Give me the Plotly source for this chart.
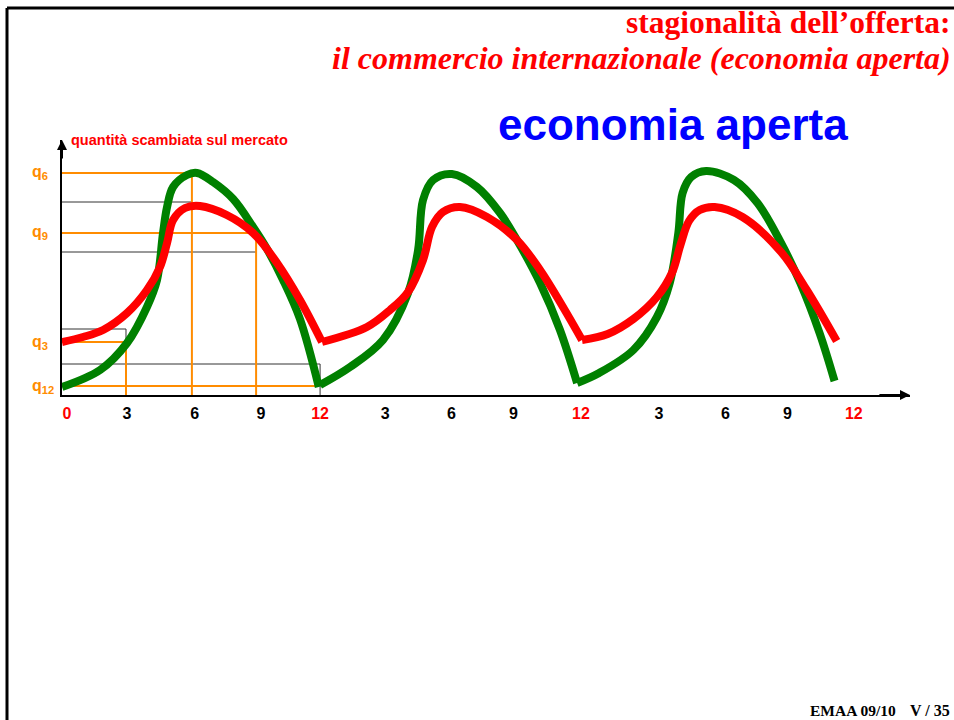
import plotly.graph_objects as go

# ---------------- data (months, quantity) ----------------
green_c1_x = [0, 1.78, 3.04, 3.97, 4.44, 4.72, 4.91, 5.19, 5.84, 6.31, 7.06, 8.0, 8.93, 9.58, 10.33, 11.12, 12.0]
green_c1_y = [8, 25, 52, 88, 115, 162, 188, 208, 220, 222, 213, 196, 168, 146, 115, 76, 8]
green_c2_x = [12.06, 13.46, 15.0, 16.17, 16.64, 16.87, 17.34, 18.22, 19.39, 20.47, 21.26, 22.34, 23.27, 24.07]
green_c2_y = [10, 28, 55, 102, 145, 195, 215, 221, 208, 182, 155, 112, 65, 12]
green_c3_x = [24.07, 25.1, 26.7, 27.8, 28.4, 28.8, 29.0, 29.4, 30.1, 31.4, 32.5, 33.6, 34.5, 35.4, 36.1]
green_c3_y = [12, 22, 45, 78, 112, 162, 202, 218, 224, 215, 192, 152, 112, 62, 14]

red_c1_x = [0, 0.98, 1.92, 3.04, 3.97, 4.58, 4.91, 5.19, 5.75, 6.45, 7.7, 8.93, 10.05, 11.12, 12.15]
red_c1_y = [53, 58, 65, 82, 105, 128, 152, 175, 187, 189, 180, 162, 132, 95, 53]
red_c2_x = [12.15, 14.25, 15.33, 16.17, 16.87, 17.29, 17.8, 18.6, 19.86, 21.26, 22.34, 23.41, 24.3]
red_c2_y = [53, 68, 85, 103, 135, 168, 183, 188, 178, 155, 125, 88, 55]
red_c3_x = [24.3, 25.5, 26.7, 27.8, 28.5, 28.9, 29.3, 29.8, 30.5, 31.8, 33.6, 34.8, 36.2]
red_c3_y = [55, 61, 76, 98, 122, 150, 174, 185, 188, 178, 143, 105, 54]

# orange guide lines: quantity levels and months
q_labels = ["q<sub>6</sub>", "q<sub>9</sub>", "q<sub>3</sub>", "q<sub>12</sub>"]
q_values = [222, 162, 53, 9]
q_months = [6.07, 9.07, 2.99, 11.96]

# thin dark guide lines
grey_values = [193, 143, 66, 31]
grey_months = [6.05, 9.07, 2.99, 12.06]

# x tick labels
tick_pos = [0.23, 3.04, 6.2, 9.3, 12.06, 15.1, 18.2, 21.1, 24.25, 27.9, 31.0, 33.9, 37.0]
tick_lab = ["0", "3", "6", "9", "12", "3", "6", "9", "12", "3", "6", "9", "12"]
tick_red = {"0", "12"}

X_MAX = 39.626
Y_MAX = 255

RED = "#FF0000"
GREEN = "#008000"
ORANGE = "#FF8C00"
W, H = 954, 720

fig = go.Figure()
for xs, ys in [(green_c1_x, green_c1_y), (green_c2_x, green_c2_y), (green_c3_x, green_c3_y)]:
    fig.add_trace(go.Scatter(x=xs, y=ys, mode="lines",
                             line=dict(color=GREEN, width=8, shape="spline", smoothing=1.0),
                             showlegend=False, hoverinfo="skip"))
for xs, ys in [(red_c1_x, red_c1_y), (red_c2_x, red_c2_y), (red_c3_x, red_c3_y)]:
    fig.add_trace(go.Scatter(x=xs, y=ys, mode="lines",
                             line=dict(color=RED, width=8, shape="spline", smoothing=1.0),
                             showlegend=False, hoverinfo="skip"))

shapes = []
for v, m in zip(grey_values, grey_months):
    shapes.append(dict(type="line", xref="x", yref="y", x0=0, x1=m, y0=v, y1=v,
                       line=dict(color="#333333", width=1), layer="below"))
shapes.append(dict(type="line", xref="x", yref="y", x0=grey_months[2], x1=grey_months[2],
                   y0=grey_values[2], y1=q_values[2], line=dict(color="#333333", width=1), layer="below"))
shapes.append(dict(type="line", xref="x", yref="y", x0=grey_months[3], x1=grey_months[3],
                   y0=grey_values[3], y1=0, line=dict(color="#333333", width=1), layer="below"))
for v, m in zip(q_values, q_months):
    shapes.append(dict(type="line", xref="x", yref="y", x0=0, x1=m, y0=v, y1=v,
                       line=dict(color=ORANGE, width=2), layer="below"))
for v, m in zip(q_values[:3], q_months[:3]):
    shapes.append(dict(type="line", xref="x", yref="y", x0=m, x1=m, y0=v, y1=0,
                       line=dict(color=ORANGE, width=2), layer="below"))

# slide frame
shapes.append(dict(type="line", xref="paper", yref="paper", x0=7 / W, x1=7 / W, y0=1 - 8 / H, y1=0,
                   line=dict(color="black", width=3)))
shapes.append(dict(type="line", xref="paper", yref="paper", x0=7 / W, x1=1, y0=1 - 8 / H, y1=1 - 8 / H,
                   line=dict(color="black", width=3)))

ann = []
ann.append(dict(x=X_MAX, y=0, ax=X_MAX - 1.5, ay=0, xref="x", yref="y", axref="x", ayref="y",
                text="", showarrow=True, arrowhead=2, arrowsize=1, arrowwidth=2, arrowcolor="black"))
ann.append(dict(x=0, y=Y_MAX, ax=0, ay=Y_MAX - 20, xref="x", yref="y", axref="x", ayref="y",
                text="", showarrow=True, arrowhead=2, arrowsize=1, arrowwidth=2, arrowcolor="black"))
for lab, v in zip(q_labels, q_values):
    ann.append(dict(x=30 / W, y=v, xref="paper", yref="y", xanchor="left", yanchor="middle",
                    text=f"<b>{lab}</b>", showarrow=False,
                    font=dict(family="Liberation Sans, Arial", size=16, color=ORANGE)))
ann.append(dict(x=69 / W, y=1 - 140 / H, xref="paper", yref="paper", xanchor="left", yanchor="middle",
                text="<b>quantità scambiata sul mercato</b>", showarrow=False,
                font=dict(family="Liberation Sans, Arial", size=14.5, color=RED)))
ann.append(dict(x=953 / W, y=1 - 22 / H, xref="paper", yref="paper", xanchor="right", yanchor="middle",
                text="<b>stagionalità dell’offerta:</b>", showarrow=False,
                font=dict(family="Liberation Serif, Times New Roman", size=31.5, color=RED)))
ann.append(dict(x=953 / W, y=1 - 58 / H, xref="paper", yref="paper", xanchor="right", yanchor="middle",
                text="<b><i>il commercio internazionale (economia aperta)</i></b>", showarrow=False,
                font=dict(family="Liberation Serif, Times New Roman", size=32, color=RED)))
ann.append(dict(x=673 / W, y=1 - 124 / H, xref="paper", yref="paper", xanchor="center", yanchor="middle",
                text="<b>economia aperta</b>", showarrow=False,
                font=dict(family="Liberation Sans, Arial", size=44, color="#0000FF")))
ann.append(dict(x=808 / W, y=1 - 710 / H, xref="paper", yref="paper", xanchor="left", yanchor="middle",
                text="<b>EMAA 09/10</b>", showarrow=False,
                font=dict(family="Liberation Serif, Times New Roman", size=15.5, color="black")))
ann.append(dict(x=908 / W, y=1 - 710 / H, xref="paper", yref="paper", xanchor="left", yanchor="middle",
                text="<b>V / 35</b>", showarrow=False,
                font=dict(family="Liberation Serif, Times New Roman", size=16, color="black")))

ticktext = [f'<span style="color:{RED}">{t}</span>' if t in tick_red else t for t in tick_lab]

fig.update_layout(
    width=W, height=H,
    margin=dict(l=0, r=0, t=0, b=0),
    paper_bgcolor="white", plot_bgcolor="white",
    showlegend=False,
    shapes=shapes, annotations=ann,
    xaxis=dict(domain=[62 / W, 910 / W], range=[0, X_MAX], showgrid=False, zeroline=False,
               showline=True, linecolor="black", linewidth=2,
               tickmode="array", tickvals=tick_pos, ticktext=ticktext, ticks="",
               ticklabelstandoff=3,
               tickfont=dict(family="Liberation Sans, Arial", size=16, color="black", weight="bold"),
               fixedrange=True),
    yaxis=dict(domain=[1 - 395 / H, 1 - 140 / H], range=[0, Y_MAX], showgrid=False, zeroline=False,
               showline=True, linecolor="black", linewidth=2, showticklabels=False, ticks="",
               fixedrange=True),
)

fig.write_html("out.html", config={"displayModeBar": False},
               post_script="document.body.style.margin='0';document.body.style.overflow='hidden';")
